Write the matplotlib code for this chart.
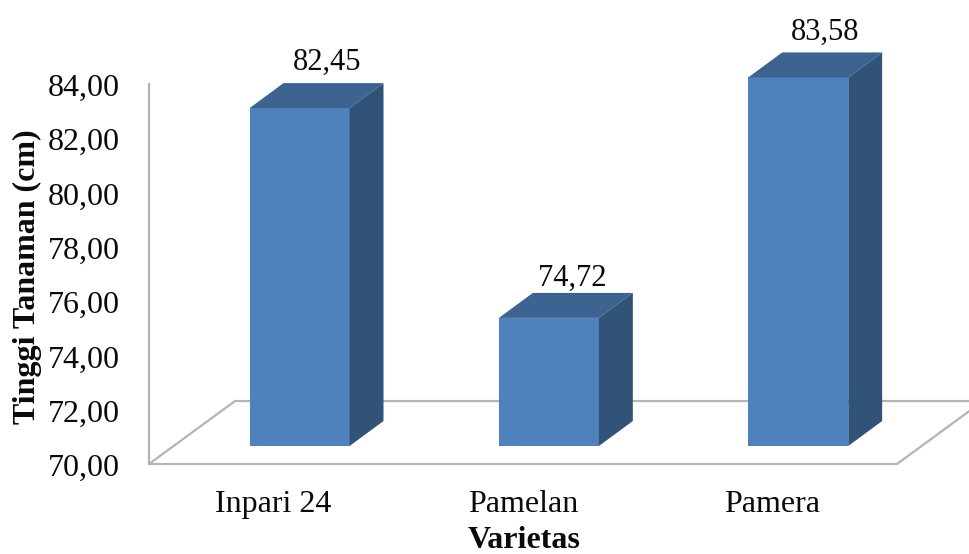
import matplotlib
matplotlib.use("Agg")
import matplotlib.pyplot as plt
from matplotlib.patches import Polygon
from matplotlib.transforms import ScaledTranslation

plt.rcParams['font.family'] = ['Liberation Serif']

varietas = ["Inpari 24", "Pamelan", "Pamera"]
tinggi = [82.45, 74.72, 83.58]
tinggi_label = ["82,45", "74,72", "83,58"]
y_ticks = [70, 72, 74, 76, 78, 80, 82, 84]
y_labels = ["70,00", "72,00", "74,00", "76,00", "78,00", "80,00", "82,00", "84,00"]

# fake 3d settings, in category units (x) and cm (y)
bar_width = 0.401
bar_shift = 0.104
bar_lift = 0.663
bar_dx = 0.136
bar_dy = 0.92
floor_dx = 0.345
floor_dy = 2.32

# label offsets from the top of each bar, in pixels
label_dx = [28, 23, 27]
label_dy = [46, 40, 45]

col_front = "#4F81BD"
col_top = "#3D6491"
col_side = "#325378"
col_grid = "#B4B4B4"
col_text = "#0A0A0A"

fig = plt.figure(figsize=(9.7, 5.54), dpi=100)
ax = fig.add_axes([149 / 970, (554 - 464) / 554, 748 / 970, 380 / 554])
ax.set_xlim(-0.5, 2.5)
ax.set_ylim(70, 84)

for s in ["top", "right", "bottom", "left"]:
    ax.spines[s].set_visible(False)

# floor and wall
ax.plot([-0.5, -0.5], [70, 84], color=col_grid, lw=1.6, clip_on=False, zorder=1)
ax.add_patch(Polygon([(-0.5, 70), (2.5, 70), (2.5 + floor_dx, 70 + floor_dy), (-0.5 + floor_dx, 70 + floor_dy)],
                     closed=True, fill=False, edgecolor=col_grid, lw=1.6, clip_on=False, zorder=1))

for i, val in enumerate(tinggi):
    left = i + bar_shift - bar_width / 2
    right = i + bar_shift + bar_width / 2
    bottom = 70 + bar_lift
    top = val + bar_lift

    ax.bar(i + bar_shift, val - 70, width=bar_width, bottom=bottom, color=col_front, clip_on=False, zorder=3)
    ax.add_patch(Polygon([(left, top), (right, top), (right + bar_dx, top + bar_dy), (left + bar_dx, top + bar_dy)],
                         closed=True, facecolor=col_top, edgecolor="none", clip_on=False, zorder=3))
    ax.add_patch(Polygon([(right, bottom), (right + bar_dx, bottom + bar_dy), (right + bar_dx, top + bar_dy), (right, top)],
                         closed=True, facecolor=col_side, edgecolor="none", clip_on=False, zorder=3))

    ax.annotate(tinggi_label[i], (i + bar_shift, top), xytext=(label_dx[i], label_dy[i]),
                textcoords="offset pixels", ha="center", va="center", fontsize=22, color=col_text,
                annotation_clip=False)

ax.set_xticks(range(len(varietas)))
ax.set_xticklabels(varietas, fontsize=23, color=col_text)
ax.set_yticks(y_ticks)
ax.set_yticklabels(y_labels, fontsize=23, color=col_text)
ax.tick_params(axis="x", length=0, pad=19)
ax.tick_params(axis="y", length=0, pad=21)

# nudge the y tick labels down a little
nudge = ScaledTranslation(0, -1.0 / 100, fig.dpi_scale_trans)
for lab in ax.get_yticklabels():
    lab.set_transform(lab.get_transform() + nudge)

fig.text(524 / 970, 1 - 541 / 554, "Varietas", ha="center", va="center", fontsize=23, fontweight="bold", color=col_text)
fig.text(27 / 970, 1 - 277 / 554, "Tinggi Tanaman (cm)", ha="center", va="center", rotation=90,
         fontsize=23, fontweight="bold", color=col_text)

fig.savefig("out.png", dpi=100)
